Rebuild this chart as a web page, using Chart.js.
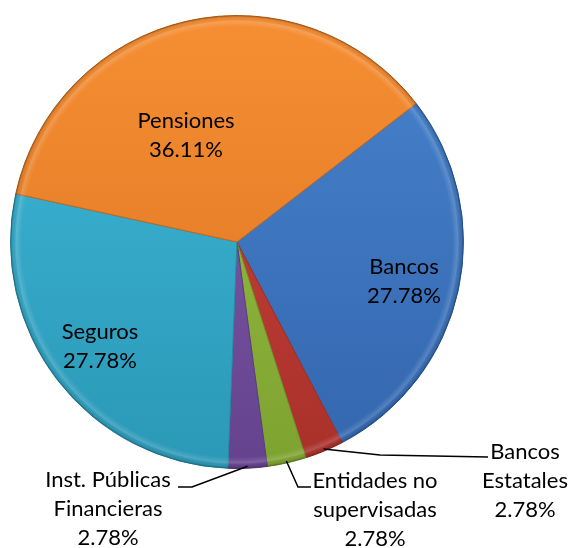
<!DOCTYPE html>
<html>
<head>
<meta charset="utf-8">
<script src="https://cdn.jsdelivr.net/npm/chart.js@4/dist/chart.umd.min.js"></script>
<style>
  html, body { margin: 0; padding: 0; background: #fff; }
  #wrap { width: 571px; height: 548px; }
</style>
</head>
<body>
<div id="wrap"><canvas id="sectorPie"></canvas></div>
<script>
// data (counts out of 36)
const categories = ["Bancos", "Bancos Estatales", "Entidades no supervisadas", "Inst. Públicas Financieras", "Seguros", "Pensiones"];
const values = [10, 1, 1, 1, 10, 13];
const percentLabels = ["27.78%", "2.78%", "2.78%", "2.78%", "27.78%", "36.11%"];
const labelLines = [["Bancos"], ["Bancos", "Estatales"], ["Entidades no", "supervisadas"], ["Inst. Públicas", "Financieras"], ["Seguros"], ["Pensiones"]];

// styling
const topColors = ["#4783cc", "#cc463c", "#9ac448", "#8460ad", "#3eb8d8", "#f68e33"];
const bottomColors = ["#3366ae", "#a9302a", "#7ea22f", "#65428e", "#2b98b7", "#d9731f"];
const edgeColors = ["#2f5f9e", "#9a2d27", "#6f8f2a", "#5a3b80", "#2a88a4", "#c0661c"];

// label layout: text center x, first baseline y, leader elbow/end, px
const labelLayout = [
  { x: 404, y: 274 },
  { x: 525, y: 459, elbow: [380, 455], end: [488, 457] },
  { x: 375, y: 488, elbow: [298, 487], end: [311, 487] },
  { x: 108, y: 487, elbow: [192, 487], end: [178, 487] },
  { x: 100, y: 339 },
  { x: 186, y: 128 }
];
const lineGap = 29;

const sliceLabels = {
  id: "sliceLabels",
  afterDatasetsDraw(chart) {
    const c = chart.ctx;
    const arcs = chart.getDatasetMeta(0).data;
    c.save();
    // thin bevel along the rim
    const a0 = arcs[0];
    const g = c.createRadialGradient(a0.x, a0.y, 0, a0.x, a0.y, a0.outerRadius);
    g.addColorStop(0, "rgba(255,255,255,0)");
    g.addColorStop(0.95, "rgba(255,255,255,0)");
    g.addColorStop(0.975, "rgba(255,255,255,0.16)");
    g.addColorStop(0.99, "rgba(0,0,0,0.04)");
    g.addColorStop(1, "rgba(0,0,0,0.28)");
    c.beginPath();
    c.arc(a0.x, a0.y, a0.outerRadius, 0, Math.PI * 2);
    c.fillStyle = g;
    c.fill();

    c.font = "22px Lato, 'Open Sans', sans-serif";
    c.fillStyle = "#000";
    c.textAlign = "center";
    c.textBaseline = "alphabetic";
    arcs.forEach((arc, i) => {
      const pos = labelLayout[i];
      const lines = labelLines[i].concat([percentLabels[i]]);
      lines.forEach((t, k) => c.fillText(t, pos.x, pos.y + k * lineGap));
      if (pos.elbow) {
        const mid = (arc.startAngle + arc.endAngle) / 2;
        const sx = arc.x + Math.cos(mid) * (arc.outerRadius - 2);
        const sy = arc.y + Math.sin(mid) * (arc.outerRadius - 2);
        c.beginPath();
        c.moveTo(sx, sy);
        c.lineTo(pos.elbow[0], pos.elbow[1]);
        c.lineTo(pos.end[0], pos.end[1]);
        c.strokeStyle = "#000";
        c.lineWidth = 1.5;
        c.stroke();
      }
    });
    c.restore();
  }
};

new Chart(document.getElementById("sectorPie"), {
  type: "pie",
  data: {
    labels: categories,
    datasets: [{
      data: values,
      backgroundColor: (context) => {
        const chart = context.chart;
        const area = chart.chartArea;
        if (!area) return topColors[context.dataIndex];
        const grad = chart.ctx.createLinearGradient(0, area.top, 0, area.bottom);
        grad.addColorStop(0, topColors[context.dataIndex]);
        grad.addColorStop(1, bottomColors[context.dataIndex]);
        return grad;
      },
      borderColor: edgeColors,
      borderWidth: 1
    }]
  },
  options: {
    responsive: true,
    maintainAspectRatio: false,
    animation: false,
    rotation: 52.3,
    layout: { padding: { left: 10, right: 107, top: 15, bottom: 79 } },
    plugins: {
      legend: { display: false },
      tooltip: { enabled: false }
    }
  },
  plugins: [sliceLabels]
});
</script>
</body>
</html>
